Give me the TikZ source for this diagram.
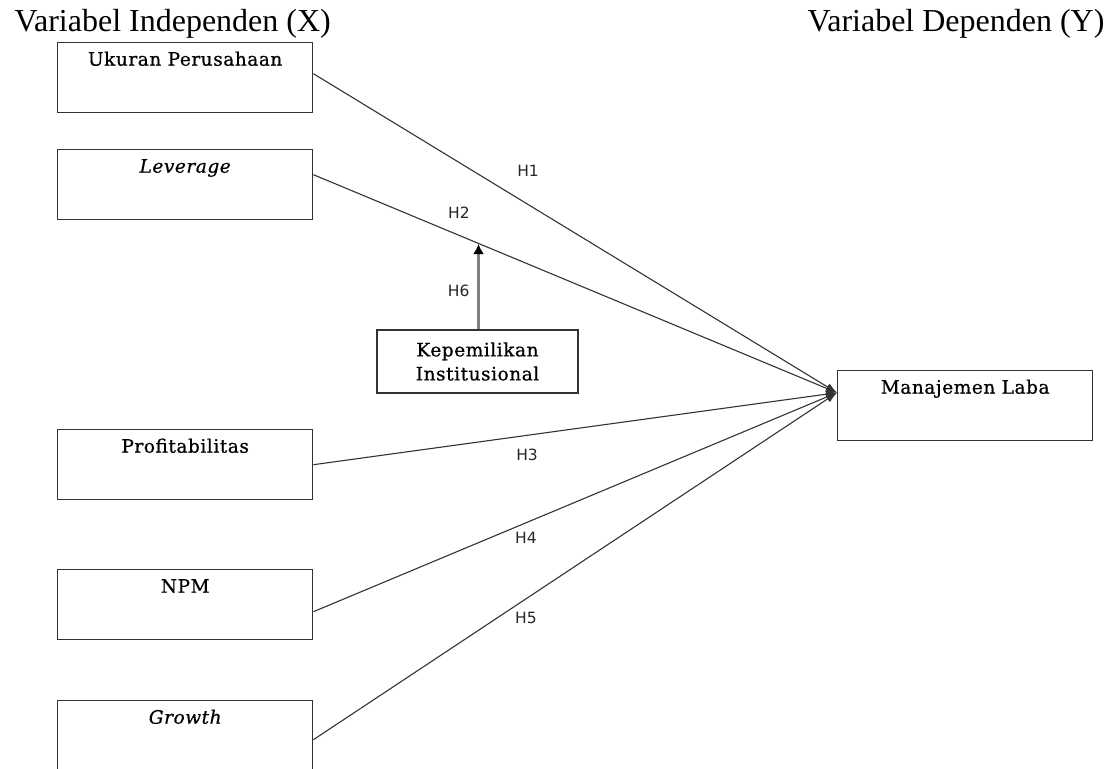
\documentclass[tikz,border=0pt]{standalone}
\usepackage{fontspec}
\setmainfont{Liberation Serif}
\newfontfamily\boxfont[LetterSpace=3,FakeBold=0.7]{DejaVu Serif}
\newfontfamily\hfont{DejaVu Sans}
\usetikzlibrary{calc,arrows,arrows.meta,positioning}
\tikzstyle{var}=[draw=black!80,line width=1.4pt,minimum width=255pt,text height=23pt,text depth=47pt,inner sep=0pt,font=\boxfont\fontsize{18.5}{21}\selectfont]
\tikzstyle{hyp}=[font=\hfont\fontsize{15.5}{18}\selectfont,text=black!85,inner sep=0pt]
\tikzstyle{head}=[font=\fontsize{32}{36}\selectfont]

\begin{document}
\begin{tikzpicture}[x=1pt,y=-1pt,
every edge/.style = {draw=black!80, -{Latex[length=11pt,width=8pt]}, line width=1.1pt}]
\useasboundingbox (0,0) rectangle (1115,768);
\clip (0,0) rectangle (1115,768);
\node [head,anchor=base west] (tx) at (11,32) {Variabel Independen (X)};
\node [head,anchor=base east] (ty) at (1108,32) {Variabel Dependen (Y)};
\node [var,anchor=north west] (uk) at (57,42) {Ukuran Perusahaan};
\node [var,anchor=north west] (lev) at (57,149) {\itshape Leverage};
\node [var,anchor=north west] (prof) at (57,429) {Profitabilitas};
\node [var,anchor=north west] (npm) at (57,569) {NPM};
\node [var,anchor=north west] (gro) at (57,700) {\itshape Growth};
\node [var,anchor=north west] (ml) at (837,370) {Manajemen Laba};
\node [draw=black!80,line width=1.4pt,minimum width=201pt,minimum height=63pt,inner sep=0pt,
    align=center,font=\boxfont\fontsize{18.5}{24}\selectfont] (kep) at (477.5,361.5) {Kepemilikan\\Institusional};
\coordinate (mlin) at ([yshift=13pt]ml.west);
\coordinate (levout) at ([yshift=10pt]lev.east);
\coordinate (h6) at ($(levout)!0.318!(mlin)$);
\draw ([yshift=4pt]uk.east) edge node [hyp,pos=0.41,yshift=34pt] {H1} (mlin);
\draw (levout) edge node [hyp,pos=0.278,yshift=23pt] {H2} (mlin);
\draw (prof.east) edge node [hyp,pos=0.408,yshift=-20pt] {H3} (mlin);
\draw ([yshift=-7pt]npm.east) edge node [hyp,pos=0.406,yshift=-15pt] {H4} (mlin);
\draw ([yshift=-4pt]gro.east) edge node [hyp,pos=0.406,yshift=-19pt] {H5} (mlin);
\draw [draw=black!50,line width=2.2pt,-{Latex[length=10pt,width=11pt,black]}] ([xshift=1pt]kep.north) -- ([xshift=1pt]kep.north |- h6)
    node [hyp,pos=0.45,left=8pt] {H6};
\end{tikzpicture}
\end{document}
